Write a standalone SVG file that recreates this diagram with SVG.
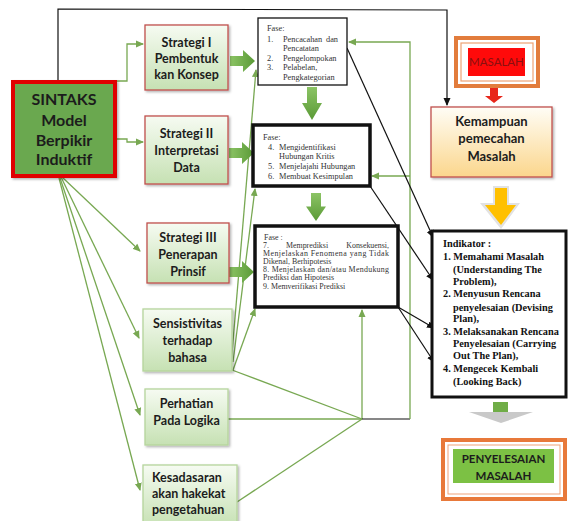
<svg xmlns="http://www.w3.org/2000/svg" width="568" height="521" viewBox="0 0 568 521">
<defs>
<style>
.lb{font-family:Lato,"Open Sans","Liberation Sans",sans-serif;font-weight:bold;fill:#1c1c1c;text-anchor:middle}
.ser{font-family:"Liberation Serif","DejaVu Serif",serif;fill:#333;font-size:8.3px}
.ser3{font-family:"Liberation Serif","DejaVu Serif",serif;fill:#333;font-size:7.9px}
.ind{font-family:"Liberation Serif","DejaVu Serif",serif;font-weight:bold;fill:#111;font-size:10.3px}
.gl{fill:none;stroke:#78a852;stroke-width:1.3}
.bl{fill:none;stroke:#111;stroke-width:1.2}
.strat{fill:url(#gS);stroke:#c0504d;stroke-width:1.3}
.soft{fill:url(#gS);stroke:#b5d59c;stroke-width:1.3}
.fase{fill:#fff;stroke:#111}
</style>
<linearGradient id="gS" x1="0" y1="0" x2="0" y2="1"><stop offset="0" stop-color="#f6fbf2"/><stop offset="1" stop-color="#c6e1b3"/></linearGradient>
<linearGradient id="gK" x1="0" y1="0" x2="0" y2="1"><stop offset="0" stop-color="#fffdf6"/><stop offset="1" stop-color="#fbd68c"/></linearGradient>
<linearGradient id="gA" x1="0" y1="0" x2="0" y2="1"><stop offset="0" stop-color="#8cc465"/><stop offset="1" stop-color="#5a9a36"/></linearGradient>
<linearGradient id="gAh" x1="0" y1="0" x2="1" y2="0"><stop offset="0" stop-color="#8cc465"/><stop offset="1" stop-color="#5a9a36"/></linearGradient>
<filter id="sh" x="-10%" y="-10%" width="130%" height="130%"><feDropShadow dx="1.5" dy="1.5" stdDeviation="1" flood-color="#000" flood-opacity="0.3"/></filter>
<marker id="ga" markerWidth="8" markerHeight="8" refX="7" refY="4" orient="auto" markerUnits="userSpaceOnUse"><path d="M0,0.5 L8,4 L0,7.5z" fill="#78a852"/></marker>
<marker id="ba" markerWidth="8" markerHeight="8" refX="7" refY="4" orient="auto" markerUnits="userSpaceOnUse"><path d="M0,0.5 L8,4 L0,7.5z" fill="#111"/></marker>
<path id="hArrow" d="M0,-5 H13 V-11 L25,0 L13,11 V5 H0 Z" fill="url(#gAh)"/>
<path id="vArrow" d="M-5,0 H5 V16 H10 L0,33 L-10,16 H-5 Z" fill="url(#gA)"/>
</defs>

<g id="connectors">
<polyline class="bl" points="58,82 58,9 447,10 447,105" marker-end="url(#ba)"/>
<polyline class="gl" points="115,81 127,81 127,44 143,44" marker-end="url(#ga)"/>
<polyline class="gl" points="115,139 127,139 127,142 143,142" marker-end="url(#ga)"/>
<line class="gl" x1="62" y1="177" x2="140" y2="251" marker-end="url(#ga)"/>
<line class="gl" x1="61" y1="177" x2="139" y2="338" marker-end="url(#ga)"/>
<line class="gl" x1="60" y1="178" x2="140" y2="415" marker-end="url(#ga)"/>
<line class="gl" x1="59" y1="178" x2="140" y2="490" marker-end="url(#ga)"/>
<line class="gl" x1="231" y1="365" x2="256" y2="70" marker-end="url(#ga)"/>
<line class="gl" x1="233" y1="362" x2="255" y2="189" marker-end="url(#ga)"/>
<line class="gl" x1="233" y1="370" x2="255" y2="309" marker-end="url(#ga)"/>
<line class="gl" x1="232" y1="370" x2="362" y2="419"/>
<line class="gl" x1="228" y1="419" x2="362" y2="419"/>
<line class="gl" x1="237" y1="502" x2="362" y2="419"/>
<line class="gl" x1="362" y1="419" x2="362" y2="310" marker-end="url(#ga)"/>
<line class="bl" x1="362" y1="419" x2="410" y2="419"/>
<polyline class="gl" points="410,419 410,42 349,42" marker-end="url(#ga)"/>
<line class="gl" x1="410" y1="176" x2="372" y2="176" marker-end="url(#ga)"/>
<line class="bl" x1="347" y1="48" x2="433" y2="237" marker-end="url(#ba)"/>
<line class="bl" x1="370" y1="186" x2="433" y2="280" marker-end="url(#ba)"/>
<line class="bl" x1="398" y1="307" x2="434" y2="328" marker-end="url(#ba)"/>
<line class="bl" x1="398" y1="307" x2="434" y2="362" marker-end="url(#ba)"/>
<use href="#hArrow" x="230" y="61"/>
<use href="#hArrow" x="229" y="153"/>
<use href="#hArrow" x="229" y="272"/>
<use href="#vArrow" x="312" y="87"/>
<use href="#vArrow" x="316" y="193" transform="translate(316,193) scale(1,0.85) translate(-316,-193)"/>
<path d="M490,88 H498 V96 H503 L494,103 L485,96 H490 Z" fill="#e8261a"/>
<path d="M493,186 H509 V203 H520 L501,229 L480,203 H493 Z" fill="#e2e2e2"/>
<path d="M495,188 H507 V205 H516 L501,225 L485,205 H495 Z" fill="#ffc000"/>
<rect x="493" y="402" width="15" height="13" fill="#70ad47"/>
<path d="M469,412 L533,412 L501,423 Z" fill="#c9c9c9"/>
</g>

<g id="sintaks">
<rect x="13" y="82" width="102" height="94" fill="#6aa84f" stroke="#e00000" stroke-width="4" filter="url(#sh)"/>
<text class="lb" font-size="16" x="64" y="105">SINTAKS</text>
<text class="lb" font-size="16" x="64" y="126">Model</text>
<text class="lb" font-size="16" x="64" y="146">Berpikir</text>
<text class="lb" font-size="16" x="64" y="165">Induktif</text>
</g>

<g id="strategi1">
<rect class="strat" x="145" y="25" width="83" height="65" filter="url(#sh)"/>
<text class="lb" font-size="12.5" x="186.5" y="46.5">Strategi I</text>
<text class="lb" font-size="12.5" x="186.5" y="62.5">Pembentuk</text>
<text class="lb" font-size="12.5" x="186.5" y="78.5">kan Konsep</text>
</g>

<g id="strategi2">
<rect class="strat" x="145" y="116" width="83" height="68" filter="url(#sh)"/>
<text class="lb" font-size="12.5" x="186.5" y="137.5">Strategi  II</text>
<text class="lb" font-size="12.5" x="186.5" y="154.5">Interpretasi</text>
<text class="lb" font-size="12.5" x="186.5" y="171.5">Data</text>
</g>

<g id="strategi3">
<rect class="strat" x="147" y="223" width="82" height="60" filter="url(#sh)"/>
<text class="lb" font-size="12.5" x="188" y="241.5">Strategi III</text>
<text class="lb" font-size="12.5" x="188" y="258.5">Penerapan</text>
<text class="lb" font-size="12.5" x="188" y="275.5">Prinsif</text>
</g>

<g id="sensitivitas">
<rect class="soft" x="143" y="309" width="89" height="62" filter="url(#sh)"/>
<text class="lb" font-size="12.5" x="187.5" y="327.5">Sensistivitas</text>
<text class="lb" font-size="12.5" x="187.5" y="344.5">terhadap</text>
<text class="lb" font-size="12.5" x="187.5" y="361.5">bahasa</text>
</g>

<g id="perhatian">
<rect class="soft" x="145" y="389" width="83" height="56" filter="url(#sh)"/>
<text class="lb" font-size="12.5" x="186.5" y="407.5">Perhatian</text>
<text class="lb" font-size="12.5" x="186.5" y="424.5">Pada Logika</text>
</g>

<g id="kesadaran">
<rect class="soft" x="143" y="465" width="94" height="62" filter="url(#sh)"/>
<text class="lb" font-size="12.5" x="152" y="481.5" style="text-anchor:start">Kesadasaran</text>
<text class="lb" font-size="12.5" x="152" y="497.5" style="text-anchor:start">akan hakekat</text>
<text class="lb" font-size="12.5" x="152" y="513.5" style="text-anchor:start">pengetahuan</text>
</g>

<g id="fase1">
<rect class="fase" x="258" y="18" width="89" height="67" stroke-width="1.3"/>
<text class="ser" x="267" y="31">Fase:</text>
<text class="ser" x="267" y="42">1.</text><text class="ser" x="283" y="42">Pencacahan</text><text class="ser" x="338" y="42" text-anchor="end">dan</text>
<text class="ser" x="283" y="51">Pencatatan</text>
<text class="ser" x="267" y="61">2.</text><text class="ser" x="283" y="61">Pengelompokan</text>
<text class="ser" x="267" y="70">3.</text><text class="ser" x="283" y="70">Pelabelan,</text>
<text class="ser" x="283" y="80">Pengkategorian</text>
</g>

<g id="fase2">
<rect class="fase" x="253" y="125" width="117" height="61" stroke-width="3.5"/>
<text class="ser" x="263" y="140">Fase:</text>
<text class="ser" x="268" y="150">4.</text><text class="ser" x="279" y="150">Mengidentifikasi</text>
<text class="ser" x="279" y="159">Hubungan Kritis</text>
<text class="ser" x="268" y="169">5.</text><text class="ser" x="279" y="169">Menjelajahi Hubungan</text>
<text class="ser" x="268" y="179">6.</text><text class="ser" x="279" y="179">Membuat Kesimpulan</text>
</g>

<g id="fase3">
<rect class="fase" x="255" y="226" width="143" height="81" stroke-width="3.5"/>
<text class="ser3" x="264" y="239.5">Fase :</text>
<text class="ser3" x="263" y="247.5">7.</text><text class="ser3" x="286" y="247.5">Memprediksi</text><text class="ser3" x="389" y="247.5" text-anchor="end">Konsekuensi,</text>
<text class="ser3" x="263" y="255.5" textLength="126" lengthAdjust="spacing">Menjelaskan Fenomena yang Tidak</text>
<text class="ser3" x="263" y="263.5">Dikenal, Berhipotesis</text>
<text class="ser3" x="263" y="272" textLength="126" lengthAdjust="spacing">8. Menjelaskan dan/atau Mendukung</text>
<text class="ser3" x="263" y="280">Prediksi dan Hipotesis</text>
<text class="ser3" x="263" y="289">9. Memverifikasi Prediksi</text>
</g>

<g id="masalah">
<rect x="456" y="38" width="82" height="48" fill="#fff" stroke="#e27c3c" stroke-width="4"/>
<rect x="461" y="43" width="72" height="38" fill="none" stroke="#eda274" stroke-width="1.2"/>
<rect x="468" y="48" width="57" height="28" fill="#ff0a0a"/>
<text x="496.5" y="66" font-family="Lato,'Liberation Sans',sans-serif" font-size="11.5" fill="#8a0f0f" text-anchor="middle">MASALAH</text>
</g>

<g id="kemampuan">
<rect x="431" y="107" width="121" height="70" fill="url(#gK)" stroke="#c0504d" stroke-width="1.3" filter="url(#sh)"/>
<text class="lb" font-size="13" x="491.5" y="125.5">Kemampuan</text>
<text class="lb" font-size="13" x="491.5" y="142.5">pemecahan</text>
<text class="lb" font-size="13" x="491.5" y="160.5">Masalah</text>
</g>

<g id="indikator">
<rect x="432" y="231" width="134" height="166" fill="#fff" stroke="#111" stroke-width="3"/>
<text class="ind" x="443" y="247">Indikator :</text>
<text class="ind" x="443" y="260">1. Memahami Masalah</text>
<text class="ind" x="453" y="273">(Understanding The</text>
<text class="ind" x="453" y="285">Problem),</text>
<text class="ind" x="443" y="297">2.  Menyusun Rencana</text>
<text class="ind" x="453" y="311">penyelesaian (Devising</text>
<text class="ind" x="453" y="322">Plan),</text>
<text class="ind" x="443" y="335">3. Melaksanakan Rencana</text>
<text class="ind" x="453" y="347">Penyelesaian (Carrying</text>
<text class="ind" x="453" y="359">Out The Plan),</text>
<text class="ind" x="443" y="372">4. Mengecek Kembali</text>
<text class="ind" x="453" y="385">(Looking Back)</text>
</g>

<g id="penyelesaian">
<rect x="443" y="440" width="122" height="59" fill="#fff" stroke="#e8793a" stroke-width="4"/>
<rect x="448" y="445" width="112" height="49" fill="none" stroke="#efa37a" stroke-width="1"/>
<rect x="453" y="449" width="101" height="34" fill="#7cc144"/>
<text class="lb" font-size="11.5" x="503.5" y="462.5">PENYELESAIAN</text>
<text class="lb" font-size="11.5" x="503.5" y="479.5">MASALAH</text>
</g>
</svg>
